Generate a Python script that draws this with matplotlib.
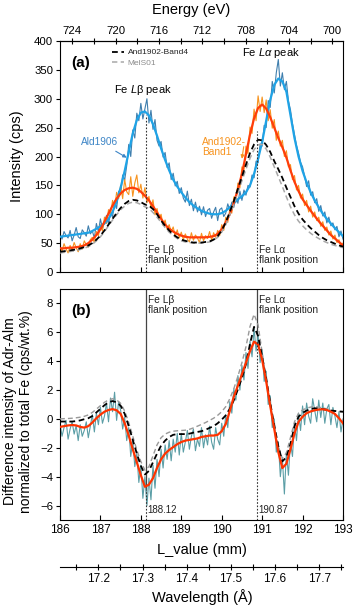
import numpy as np
import matplotlib
matplotlib.use("Agg")
import matplotlib.pyplot as plt
from matplotlib.ticker import MultipleLocator, FixedLocator

plt.rcParams['font.family'] = ['Liberation Sans', 'DejaVu Sans']
plt.rcParams['mathtext.fontset'] = 'custom'
plt.rcParams['mathtext.it'] = 'Liberation Sans:italic'
plt.rcParams['mathtext.rm'] = 'Liberation Sans'

# ---------------- data ----------------
# smooth (fitted) curves, L_value 186.0 .. 193.0 step 0.1 mm
ald1906_fit = [61, 62, 63, 64, 65, 66, 67, 68, 71, 75,
               79, 84, 92, 104, 122, 146, 175, 208, 240, 263,
               276, 278, 271, 256, 236, 214, 194, 176, 160, 148,
               138, 129, 121, 115, 110, 106, 103, 101, 100, 100,
               102, 106, 112, 119, 126, 131, 138, 150, 170, 196,
               225, 262, 298, 324, 335, 330, 312, 272, 232, 200,
               175, 155, 138, 124, 112, 101, 92, 84, 76, 69,
               62]
band1_fit = [41, 41, 42, 42, 43, 44, 46, 50, 56, 64,
             74, 87, 101, 115, 127, 136, 142, 145, 146, 144,
             139, 132, 124, 114, 103, 92, 82, 75, 70, 66,
             63, 61, 60, 60, 60, 60, 60, 61, 62, 66,
             74, 86, 100, 120, 143, 170, 204, 238, 266, 284,
             290, 283, 268, 250, 232, 216, 198, 176, 156, 140,
             126, 116, 106, 97, 88, 80, 72, 64, 58, 52,
             46]
band4_a = [35, 36, 37, 38, 39, 41, 43, 46, 50, 56,
           63, 72, 82, 92, 102, 111, 118, 123, 125, 124,
           121, 117, 115, 109, 100, 89, 80, 72, 65, 60,
           56, 54, 52, 51, 51, 51, 52, 53, 56, 62,
           72, 86, 104, 123, 144, 165, 186, 206, 221, 229,
           228, 220, 208, 192, 178, 163, 146, 130, 114, 101,
           91, 83, 76, 70, 64, 59, 55, 52, 49, 46,
           44]
mels01_a = [33, 34, 35, 36, 37, 39, 41, 44, 48, 54,
            61, 70, 80, 90, 99, 108, 114, 119, 121, 120,
            117, 113, 110, 103, 95, 86, 77, 69, 63, 58,
            54, 52, 51, 50, 50, 50, 51, 52, 55, 60,
            69, 82, 99, 117, 137, 158, 178, 197, 212, 220,
            221, 213, 199, 182, 165, 148, 130, 113, 99, 88,
            80, 73, 67, 62, 58, 54, 51, 48, 46, 44,
            42]

# raw spectra, L_value 186.00 .. 193.00 step 0.05 mm
ald1906_raw = [66, 57, 70, 63, 59, 72, 54, 64, 77, 61,
               58, 73, 68, 62, 80, 66, 71, 59, 84, 70,
               92, 75, 86, 98, 83, 104, 95, 123, 110, 140,
               136, 168, 159, 184, 221, 200, 246, 232, 275, 262,
               292, 265, 283, 300, 258, 280, 247, 264, 228, 218,
               226, 199, 207, 181, 189, 160, 171, 149, 157, 136,
               146, 128, 121, 140, 115, 126, 106, 121, 104, 114,
               99, 113, 96, 107, 110, 93, 104, 112, 89, 108,
               111, 96, 102, 118, 107, 121, 112, 131, 119, 140,
               124, 142, 133, 150, 147, 168, 163, 192, 189, 222,
               218, 254, 250, 297, 285, 330, 310, 345, 368, 322,
               345, 316, 330, 296, 281, 257, 238, 219, 206, 190,
               182, 166, 148, 158, 133, 139, 120, 127, 105, 115,
               97, 104, 85, 95, 80, 85, 73, 79, 61, 71,
               57]
band1_raw = [45, 36, 49, 40, 33, 46, 38, 51, 42, 35,
             49, 40, 54, 47, 43, 56, 60, 51, 70, 63,
             82, 71, 95, 84, 108, 99, 124, 110, 138, 127,
             150, 127, 160, 139, 134, 165, 131, 154, 168, 137,
             152, 128, 146, 120, 131, 111, 125, 99, 110, 92,
             100, 81, 90, 74, 82, 70, 78, 62, 73, 59,
             69, 56, 66, 57, 52, 68, 55, 64, 59, 51,
             67, 54, 63, 58, 70, 55, 68, 60, 72, 63,
             82, 72, 95, 86, 109, 102, 130, 121, 154, 146,
             182, 176, 218, 205, 251, 240, 282, 262, 305, 278,
             303, 276, 298, 262, 281, 249, 264, 228, 244, 218,
             228, 200, 210, 182, 186, 160, 167, 142, 150, 128,
             135, 115, 124, 104, 114, 95, 104, 89, 95, 79,
             87, 72, 78, 64, 71, 57, 64, 51, 56, 45,
             50]

# panel (b): difference spectra
diff_fit = [-0.55, -0.50, -0.45, -0.42, -0.45, -0.55, -0.60, -0.50, -0.25, 0.05,
            0.30, 0.50, 0.62, 0.68, 0.60, 0.35, -0.30, -1.15, -2.10, -3.00,
            -3.90, -4.70, -4.55, -4.10, -3.40, -2.80, -2.40, -2.15, -1.95, -1.75,
            -1.60, -1.50, -1.45, -1.40, -1.35, -1.25, -1.20, -1.15, -1.15, -1.10,
            -0.85, -0.35, 0.55, 1.55, 2.30, 3.10, 3.90, 4.70, 5.35, 5.15,
            4.10, 2.60, 0.90, -0.70, -2.30, -3.40, -3.10, -2.10, -1.00, -0.20,
            0.15, 0.40, 0.52, 0.60, 0.65, 0.67, 0.62, 0.50, 0.35, 0.05,
            -0.30]
band4_b = [-0.18, -0.18, -0.18, -0.18, -0.15, -0.10, -0.02, 0.05, 0.20, 0.45,
           0.70, 0.95, 1.15, 1.24, 1.15, 0.92, 0.35, -0.50, -1.45, -2.40,
           -3.25, -3.85, -3.60, -3.00, -2.40, -1.85, -1.50, -1.25, -1.10, -1.05,
           -1.05, -1.05, -1.02, -0.95, -0.90, -0.85, -0.75, -0.62, -0.50, -0.30,
           -0.05, 0.25, 0.70, 1.30, 2.05, 2.85, 3.80, 5.20, 6.38, 5.75,
           4.30, 2.80, 1.10, -0.45, -1.90, -2.94, -2.65, -1.75, -0.50, 0.15,
           0.42, 0.58, 0.68, 0.74, 0.72, 0.68, 0.62, 0.58, 0.55, 0.52,
           0.50]
mels01_b = [0.00, 0.02, 0.03, 0.05, 0.08, 0.12, 0.18, 0.28, 0.45, 0.68,
            0.92, 1.15, 1.32, 1.40, 1.32, 1.08, 0.55, -0.25, -1.20, -2.15,
            -2.95, -3.55, -3.30, -2.55, -1.80, -1.30, -1.05, -0.92, -0.85, -0.82,
            -0.80, -0.78, -0.72, -0.62, -0.50, -0.38, -0.25, -0.10, 0.05, 0.25,
            0.50, 0.85, 1.40, 2.10, 2.95, 3.90, 5.00, 6.40, 7.25, 6.50,
            4.60, 2.70, 1.00, -0.60, -1.90, -2.75, -2.35, -1.30, -0.20, 0.40,
            0.62, 0.75, 0.82, 0.85, 0.82, 0.76, 0.70, 0.62, 0.56, 0.52,
            0.50]
diff_raw = [-0.30, -1.20, -0.60, -0.10, -1.40, -0.70, -0.20, -1.05, -0.45, -1.50,
            -0.40, -1.20, -0.80, -0.20, -1.30, -0.50, 0.30, -0.90, 0.40, -0.40,
            0.80, -0.30, 0.20, 1.10, -0.20, 1.45, 0.50, 1.85, -0.10, 1.20,
            0.60, -0.70, 0.10, -1.50, -0.60, -2.60, -1.50, -3.30, -2.40, -4.40,
            -3.20, -5.50, -4.00, -6.00, -4.10, -5.60, -3.20, -4.80, -2.80, -4.00,
            -2.10, -3.40, -1.80, -2.80, -1.50, -2.90, -1.40, -2.30, -1.00, -2.50,
            -1.00, -2.30, -1.60, -0.80, -2.10, -1.20, -0.70, -2.20, -1.40, -1.90,
            -0.60, -2.00, -1.10, -1.80, -0.50, -1.60, -2.10, -0.60, -1.40, -1.80,
            -0.30, -1.20, 0.30, -0.60, 1.20, 0.40, 2.10, 1.30, 3.00, 2.00,
            3.70, 2.70, 4.60, 3.50, 5.40, 4.30, 6.30, 4.70, 5.80, 3.90,
            4.80, 2.60, 3.30, 1.00, 1.60, -0.60, 0.00, -2.30, -1.60, -4.00,
            -2.70, -5.20, -2.30, -3.90, -1.60, -2.60, -0.30, -1.50, 0.40, -0.80,
            0.90, -0.40, 1.10, 0.20, -0.30, 1.40, 0.60, -0.20, 1.30, 0.10,
            1.10, -0.30, 0.70, 1.00, -0.40, 0.80, 0.20, -0.60, 0.50, -0.90,
            0.00]

flank_L = [188.12, 190.87]
flank_labels = ["188.12", "190.87"]
energy_ticks = [724, 720, 716, 712, 708, 704, 700]
wavelength_ticks = [17.2, 17.3, 17.4, 17.5, 17.6, 17.7]

L_fit = np.linspace(186, 193, len(ald1906_fit))
L_raw = np.linspace(186, 193, len(ald1906_raw))

# ---------------- figure ----------------
W, H = 354, 608
fig = plt.figure(figsize=(W / 100, H / 100), dpi=100)


def rect(l, t, r, b):
    return [l / W, 1 - b / H, (r - l) / W, (b - t) / H]


ax_a = fig.add_axes(rect(60, 41, 343, 272))
ax_b = fig.add_axes(rect(60, 289, 343, 520))

c_blue_raw = '#3f7fae'
c_blue_fit = '#1fa3e6'
c_or_raw = '#f7931e'
c_or_fit = '#ff3d0a'
c_teal = '#5b9ea6'
c_red = '#ff3300'
c_grey = '#a8a8a8'

# panel (a)
ax_a.plot(L_raw, ald1906_raw, color=c_blue_raw, lw=0.8, zorder=2)
ax_a.plot(L_raw, band1_raw, color=c_or_raw, lw=0.8, zorder=2)
ax_a.plot(L_fit, ald1906_fit, color=c_blue_fit, lw=1.6, zorder=3)
ax_a.plot(L_fit, band1_fit, color=c_or_fit, lw=1.6, zorder=3)
l_grey, = ax_a.plot(L_fit, mels01_a, color=c_grey, lw=1.1, dashes=(3.5, 2.2), zorder=4)
l_black, = ax_a.plot(L_fit, band4_a, color='black', lw=1.3, dashes=(3.2, 2.0), zorder=5)

ax_a.vlines(flank_L[0], 0, 272, colors='#333333', lw=0.8, linestyles=(0, (1.5, 1.5)), zorder=6)
ax_a.vlines(flank_L[1], 0, 245, colors='#333333', lw=0.8, linestyles=(0, (1.5, 1.5)), zorder=6)

ax_a.set_xlim(186, 193)
ax_a.set_ylim(0, 400)
ax_a.yaxis.set_major_locator(MultipleLocator(50))
ax_a.xaxis.set_major_locator(MultipleLocator(1))
ax_a.tick_params(axis='x', direction='in', length=3.5, width=0.8, labelbottom=False, top=False)
ax_a.tick_params(axis='y', direction='out', length=3, width=0.8, labelsize=8.2, pad=2)
ax_a.set_ylabel('Intensity (cps)', fontsize=10.5)
ax_a.yaxis.set_label_coords(-0.127, 0.5)

ax_a.text(186.28, 362, '(a)', fontsize=11, fontweight='bold', va='center', ha='left')
leg = ax_a.legend([l_black, l_grey], ['And1902-Band4', 'MelS01'], loc='upper left',
                  bbox_to_anchor=(0.17, 0.985), frameon=False, fontsize=6,
                  handlelength=1.4, handletextpad=0.45, labelspacing=0.35, borderpad=0)
leg.get_texts()[0].set_color('#222222')
leg.get_texts()[1].set_color('#8c8c8c')

ax_a.text(188.05, 315, 'Fe $\\mathit{L}$β peak', fontsize=8, ha='center', va='center')
ax_a.text(191.22, 380, 'Fe $\\mathit{L\\alpha}$ peak', fontsize=8, ha='center', va='center')
ax_a.annotate('Ald1906', xy=(187.65, 198), xytext=(186.99, 225), fontsize=7.3,
              color='#3d85c6', ha='center', va='center',
              arrowprops=dict(arrowstyle='-|>', color='#3d85c6', lw=0.8,
                              mutation_scale=5, shrinkA=2, shrinkB=0))
ax_a.annotate('And1902-\nBand1', xy=(190.5, 196), xytext=(189.51, 217), fontsize=7.3,
              color=c_or_raw, ha='left', va='center', linespacing=1.0,
              arrowprops=dict(arrowstyle='-|>', color=c_or_raw, lw=0.8,
                              mutation_scale=5, shrinkA=0, shrinkB=0,
                              relpos=(0.95, 0.5)))
ax_a.text(flank_L[0] + 0.06, 30, 'Fe Lβ\nflank position', fontsize=7.3, ha='left',
          va='center', color='#222222', linespacing=1.0)
ax_a.text(flank_L[1] + 0.06, 30, 'Fe Lα\nflank position', fontsize=7.3, ha='left',
          va='center', color='#222222', linespacing=1.0)


def L2E(L):
    return 724 - 3.733 * (np.asarray(L) - 186.304)


def E2L(E):
    return 186.304 + (724 - np.asarray(E)) / 3.733


sec_top = ax_a.secondary_xaxis('top', functions=(L2E, E2L))
sec_top.xaxis.set_major_locator(FixedLocator(energy_ticks))
sec_top.xaxis.set_minor_locator(MultipleLocator(2))
sec_top.tick_params(which='both', direction='inout', length=4, width=0.8, labelsize=8.2, pad=1.5)

# panel (b)
ax_b.plot(L_raw, diff_raw, color=c_teal, lw=0.8, zorder=2)
ax_b.plot(L_fit, mels01_b, color='#999999', lw=1.0, dashes=(3.5, 2.2), zorder=3)
ax_b.plot(L_fit, band4_b, color='black', lw=1.3, dashes=(3.2, 2.0), zorder=4)
ax_b.plot(L_fit, diff_fit, color=c_red, lw=1.6, zorder=5)

ax_b.vlines(flank_L[0], -5.0, 9, colors='#444444', lw=0.9, zorder=1)
ax_b.vlines(flank_L[0], -7, -5.0, colors='#333333', lw=0.8, linestyles=(0, (1.5, 1.5)), zorder=6)
ax_b.vlines(flank_L[1], 5.4, 9, colors='#444444', lw=0.9, zorder=1)
ax_b.vlines(flank_L[1], -7, 5.4, colors='#333333', lw=0.8, linestyles=(0, (1.5, 1.5)), zorder=6)
for xl, lab in zip(flank_L, flank_labels):
    ax_b.text(xl + 0.04, -6.3, lab, fontsize=7, ha='left', va='center', color='#222222')

ax_b.set_xlim(186, 193)
ax_b.set_ylim(-7, 9)
ax_b.yaxis.set_major_locator(MultipleLocator(2))
ax_b.xaxis.set_major_locator(MultipleLocator(1))
ax_b.tick_params(axis='x', direction='in', length=3.5, width=0.8, labelsize=8.5, pad=3)
ax_b.tick_params(axis='y', direction='out', length=3, width=0.8, labelsize=8.2, pad=2)
ax_b.set_ylabel('Difference intensity of Adr-Alm\nnormalized to total Fe (cps/wt.%)',
                fontsize=10, linespacing=1.15)
ax_b.yaxis.set_label_coords(-0.095, 0.47)

ax_b.text(186.28, 7.5, '(b)', fontsize=11, fontweight='bold', va='center', ha='left')
ax_b.text(flank_L[0] + 0.06, 7.9, 'Fe Lβ\nflank position', fontsize=7.3, ha='left',
          va='center', color='#222222', linespacing=1.0)
ax_b.text(flank_L[1] + 0.06, 7.9, 'Fe Lα\nflank position', fontsize=7.3, ha='left',
          va='center', color='#222222', linespacing=1.0)


def L2W(L):
    return 17.113 + 0.09157 * (np.asarray(L) - 186)


def W2L(w):
    return 186 + (np.asarray(w) - 17.113) / 0.09157


sec_bot = ax_b.secondary_xaxis(-47 / 231, functions=(L2W, W2L))
sec_bot.xaxis.set_major_locator(FixedLocator(wavelength_ticks))
sec_bot.xaxis.set_minor_locator(MultipleLocator(0.05))
sec_bot.tick_params(which='both', direction='inout', length=4, width=0.8, labelsize=8.5, pad=2)

for ax in (ax_a, ax_b, sec_top, sec_bot):
    for sp in ax.spines.values():
        sp.set_linewidth(0.8)

fig.text(191 / W, 1 - 10 / H, 'Energy (eV)', fontsize=10.5, ha='center', va='center')
fig.text(202 / W, 1 - 550 / H, 'L_value (mm)', fontsize=10.5, ha='center', va='center')
fig.text(202 / W, 1 - 597 / H, 'Wavelength (Å)', fontsize=10.5, ha='center', va='center')

fig.savefig('out.png', dpi=100)
